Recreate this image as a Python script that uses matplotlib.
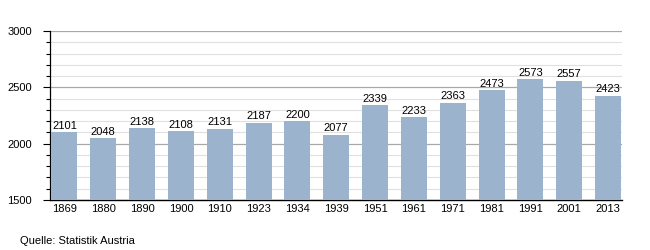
import matplotlib.pyplot as plt
import numpy as np

years = ["1869", "1880", "1890", "1900", "1910", "1923", "1934", "1939",
         "1951", "1961", "1971", "1981", "1991", "2001", "2013"]
population = [2101, 2048, 2138, 2108, 2131, 2187, 2200, 2077,
              2339, 2233, 2363, 2473, 2573, 2557, 2423]

plt.rcParams["font.family"] = "Liberation Sans"

fig = plt.figure(figsize=(6.5, 2.5), dpi=100)
ax = fig.add_axes([0.077, 0.2, 0.88, 0.676])

x = np.arange(len(years))
ax.bar(x, population, width=0.67, color="#9bb3cc", zorder=3)

for i, v in enumerate(population):
    ax.text(i, v + 14, str(v), ha="center", va="bottom", fontsize=8, zorder=4)

ax.set_ylim(1500, 3000)
ax.set_xlim(-0.37, 14.36)
ax.set_yticks([1500, 2000, 2500, 3000])
ax.set_yticks(np.arange(1500, 3001, 100), minor=True)
ax.set_xticks(x)
ax.set_xticklabels(years)

ax.grid(axis="y", which="major", color="#a8a8a8", lw=0.9, zorder=0)
ax.grid(axis="y", which="minor", color="#e0e0e0", lw=0.8, zorder=0)

for s in ["top", "right"]:
    ax.spines[s].set_visible(False)
ax.spines["left"].set_linewidth(0.9)
ax.spines["bottom"].set_linewidth(1.0)
ax.tick_params(axis="y", which="major", length=5, width=0.8, labelsize=8, pad=8)
ax.tick_params(axis="y", which="minor", length=3, width=0.8)
ax.tick_params(axis="x", length=0, labelsize=8, pad=3)

fig.text(0.031, 0.025, "Quelle: Statistik Austria", fontsize=8)

fig.savefig("out.png")
